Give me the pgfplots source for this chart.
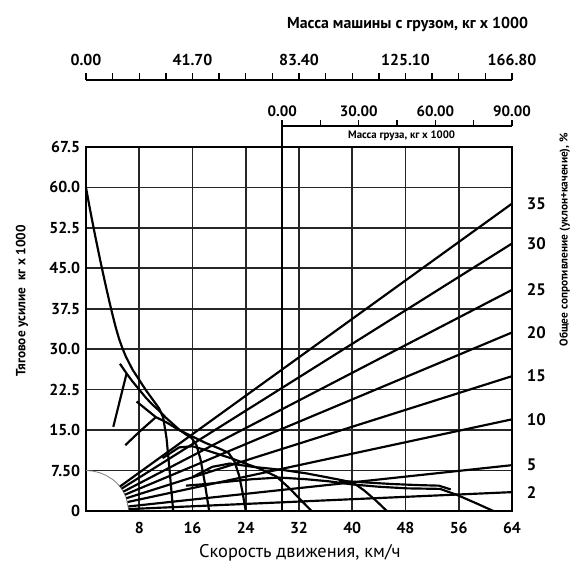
\documentclass[border=0pt]{standalone}
\usepackage{fontspec}
\setmainfont{PT Sans}
\usepackage{pgfplots}
\pgfplotsset{compat=1.18}
\tikzset{rp/.style={black, solid, mark=none, line width=1.3pt, line join=round},
  gl/.style={pos=1, anchor=west, xshift=5pt, font=\fontsize{10}{10}\selectfont\bfseries, black}}
\begin{document}
\begin{tikzpicture}[x=1pt,y=1pt]
% ---------- main chart ----------
\begin{axis}[
  at={(0pt,0pt)}, anchor=south west,
  scale only axis, width=255.6pt, height=218.4pt,
  xmin=0, xmax=64, ymin=0, ymax=67.5,
  xtick={8,16,24,32,40,48,56,64},
  xticklabels={8,16,24,32,40,48,56,64},
  ytick={0,7.5,15,22.5,30,37.5,45,52.5,60,67.5},
  yticklabels={0,7.50,15.0,22.5,30.0,37.5,45.0,52.5,60.0,67.5},
  grid=major, major grid style={black!85, line width=1.0pt},
  major tick length=0pt,
  axis line style={black, line width=1.0pt},
  tick label style={font=\fontsize{9.5}{10}\selectfont\bfseries},
  /pgf/number format/assume math mode=true,
  xticklabel style={yshift=-3pt},
  clip=false,
]
% thin curve near origin
\addplot[gray, solid, mark=none, line width=0.5pt] coordinates {(0,7.5) (1,7.41) (2,7.12) (3,6.62) (4,5.85) (4.5,5.33) (5,4.68) (5.5,3.83) (6,2.61) (6.4,0.3)};
% grade (total resistance) lines
\addplot[rp] coordinates {(5.10,4.54) (64,57.0)} node[gl]{35};
\addplot[rp] coordinates {(5.34,4.14) (64,49.6)} node[gl]{30};
\addplot[rp] coordinates {(5.62,3.60) (64,41.0)} node[gl]{25};
\addplot[rp] coordinates {(5.86,3.03) (64,33.1)} node[gl]{20};
\addplot[rp] coordinates {(6.07,2.37) (64,25.0)} node[gl]{15};
\addplot[rp] coordinates {(6.24,1.66) (64,17.0)} node[gl]{10};
\addplot[rp] coordinates {(6.36,0.84) (64,8.5)} node[gl]{5};
\addplot[rp] coordinates {(6.39,0.35) (64,3.5)} node[gl]{2};
% empty-mass line
\addplot[rp] coordinates {(29.47,0) (29.47,71.4)};
% rimpull curves
\addplot[rp] coordinates {(0,60) (0.5,56.6) (1,53.4) (1.5,50.3) (2,47.3) (2.5,44.4) (3,41.6) (3.5,38.9) (4,36.3) (4.5,33.9) (5,31.8) (5.5,30.1) (6,28.6) (7,26.2) (8,24.3) (9,22.4) (10,20.7) (11,19.0) (11.6,17.3) (12.1,13.5) (12.6,7) (13.1,0)};
\addplot[rp] coordinates {(5.1,27.3) (6.1,25.5) (7,24.0) (8,22.5) (9,21.0) (10,19.7) (11,18.6) (12,17.3) (13,16.2) (14,15.1) (15,14.2) (15.9,13.5) (16.6,12.2) (17.2,9.6) (17.8,5.6) (18.5,0)};
\addplot[rp] coordinates {(4.1,15.6) (6.1,25.5)};
\addplot[rp] coordinates {(5.9,12.2) (8.2,14.9) (10.5,17.4) (12,16.5) (14,15.0) (16,13.8) (18,12.6) (20,11.6) (21.4,10.8) (22.3,9.2) (23.0,6.6) (23.5,3.6) (24.0,0)};
\addplot[rp] coordinates {(7.6,20.3) (10.5,17.4)};
\addplot[rp] coordinates {(11.5,9.8) (14,11.8) (16,12.0) (18,11.3) (20,10.5) (22,9.7) (23.5,9.0) (26,7.9) (28.6,6.4) (30.5,4.3) (32.3,2.0) (33.9,0)};
\addplot[rp] coordinates {(16,6.3) (19,8.2) (21.6,8.8) (25,8.2) (29.6,7.6) (33,7.0) (36,6.3) (38.5,5.7) (40.2,5.2) (41.8,3.8) (43.5,2.0) (45.2,0)};
\addplot[rp] coordinates {(15,4.7) (18,5.0) (21,5.4) (25,5.9) (29,6.2) (33,5.9) (36.5,5.5) (40.2,4.9) (44,4.5) (48.2,4.2) (53.2,4.1) (55.7,3.0) (58.5,1.5) (61.2,0)};
\addplot[rp] coordinates {(38,5.6) (42,5.3) (46,5.0) (50,4.8) (53,4.7) (54.8,4.0)};
% axis titles
\node[rotate=90, font=\fontsize{8}{9}\selectfont\bfseries] at (rel axis cs:-0.150,0.577) {Тяговое усилие\ \ кг x 1000};
\node[rotate=90, font=\fontsize{6.8}{8}\selectfont\bfseries] at (rel axis cs:1.124,0.745) {Общее сопротивление (уклон+качение), \%};
\node[font=\fontsize{11}{12}\selectfont] at (rel axis cs:0.502,-0.115) {Скорость движения, км/ч};
\end{axis}
% ---------- gross mass scale ----------
\begin{axis}[
  at={(0pt,258.6pt)}, anchor=north west,
  scale only axis, width=255.6pt, height=10pt,
  xmin=0, xmax=166.8, ymin=0, ymax=1,
  axis x line=top, axis y line=none,
  x axis line style={-, black, line width=0.9pt},
  xtick={0,41.7,83.4,125.1,166.8},
  xticklabels={0.00,41.70,83.40,125.10,166.80},
  minor xtick={10.425,20.85,31.275,52.125,62.55,72.975,93.825,104.25,114.675,135.525,145.95,156.375},
  tick align=outside, major tick length=4pt, minor tick length=4pt,
  every tick/.style={black, line width=0.8pt},
  tick label style={font=\fontsize{9.5}{10}\selectfont\bfseries},
  xticklabel style={yshift=1pt},
  clip=false,
]
\node[font=\fontsize{9.5}{10}\selectfont\bfseries] at (rel axis cs:0.755,1) [yshift=33.6pt] {Масса машины с грузом, кг x 1000};
\end{axis}
% ---------- cargo mass scale ----------
\begin{axis}[
  at={(117.7pt,231pt)}, anchor=north west,
  scale only axis, width=137.9pt, height=5pt,
  xmin=0, xmax=90, ymin=0, ymax=1,
  axis x line=top, axis y line=none,
  x axis line style={-, black, line width=0.9pt},
  xtick={0,30,60,90},
  xticklabels={0.00,30.00,60.00,90.00},
  minor xtick={15,45,75},
  tick align=outside, major tick length=3.5pt, minor tick length=3.5pt,
  every tick/.style={black, line width=0.8pt},
  tick label style={font=\fontsize{9}{10}\selectfont\bfseries},
  xticklabel style={yshift=-1.5pt},
  clip=false,
]
\node[font=\fontsize{6.5}{7}\selectfont\bfseries] at (rel axis cs:0.52,1) [yshift=-6pt] {Масса груза, кг x 1000};
\end{axis}
\pgfresetboundingbox
\path[use as bounding box] (-51.6pt,-34.2pt) rectangle (292.2pt,306.6pt);
\end{tikzpicture}
\end{document}
